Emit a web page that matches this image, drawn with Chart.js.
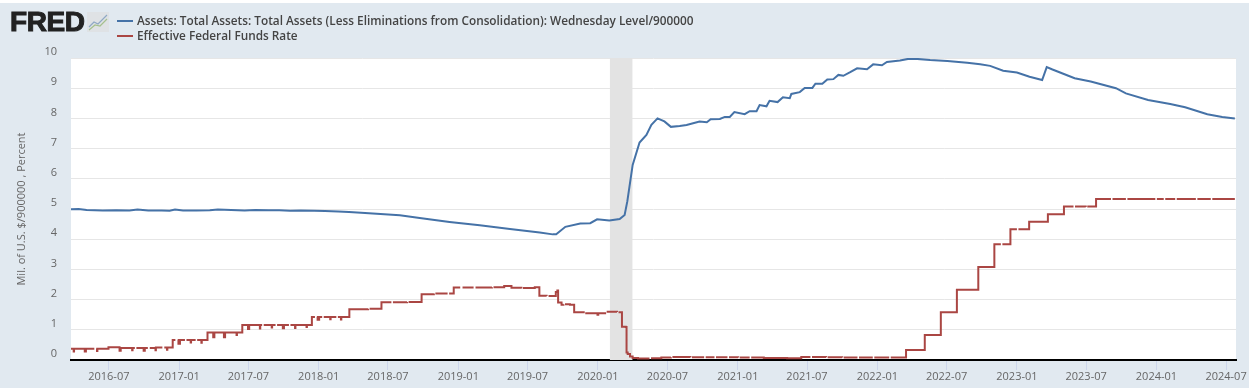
<!DOCTYPE html>
<html>
<head>
<meta charset="utf-8">
<title>FRED</title>
<script src="https://cdn.jsdelivr.net/npm/chart.js@4"></script>
<style>
html, body { margin: 0; padding: 0; background: #fff; width: 1249px; height: 391px; overflow: hidden; }
#panel { position: absolute; left: 0; top: 3px; width: 1249px; height: 385px; background: #e1e9f0; }
#c { position: absolute; left: 0; top: 0; }
#logo { position: absolute; left: 10px; top: 6px; font: bold 28px "Liberation Sans", sans-serif; color: #222; letter-spacing: -0.4px; -webkit-text-stroke: 1px #222; }
#logo-icon { position: absolute; left: 87px; top: 12px; }
#legend { position: absolute; left: 117px; top: 13px; font: 600 11.8px "Open Sans", sans-serif; color: #444; }
#legend div { height: 15px; line-height: 15px; white-space: nowrap; }
#legend i { display: inline-block; width: 16px; height: 2px; margin-right: 4px; vertical-align: 3px; }
</style>
</head>
<body>
<div id="panel"></div>
<canvas id="c" width="1249" height="391"></canvas>
<div id="logo">FRED</div>
<svg id="logo-icon" width="22" height="20">
  <rect width="22" height="20" fill="#dfe2e5"/>
  <polyline points="2,15 7,10 11,12 20,3" fill="none" stroke="#8fa9c4" stroke-width="1.2"/>
  <polyline points="2,18 8,13 13,14 20,7" fill="none" stroke="#a5c08e" stroke-width="1.2"/>
</svg>
<div id="legend"></div>
<script>
const tickDates = ['2016-07-01','2017-01-01','2017-07-01','2018-01-01','2018-07-01','2019-01-01','2019-07-01','2020-01-01',
    '2020-07-01','2021-01-01','2021-07-01','2022-01-01','2022-07-01','2023-01-01','2023-07-01','2024-01-01','2024-07-01'];
const tickLabels = ['2016-07','2017-01','2017-07','2018-01','2018-07','2019-01','2019-07','2020-01',
    '2020-07','2021-01','2021-07','2022-01','2022-07','2023-01','2023-07','2024-01','2024-07'];
const recessionDates = ['2020-02-01','2020-04-01'];
const recessionTop = [10,10];

const assetLabel = 'Assets: Total Assets: Total Assets (Less Eliminations from Consolidation): Wednesday Level/900000';
const rateLabel = 'Effective Federal Funds Rate';
const yTitle = 'Mil. of U.S. $/900000 , Percent';

const assetDates = [
    '2016-03-23','2016-04-13','2016-05-04','2016-06-15','2016-07-20','2016-08-24','2016-09-14','2016-10-12',
    '2016-11-16','2016-12-07','2016-12-21','2017-01-11','2017-02-15','2017-03-22','2017-04-12','2017-05-17',
    '2017-06-21','2017-07-19','2017-08-23','2017-09-20','2017-10-18','2017-11-15','2017-12-20','2018-01-17',
    '2018-02-21','2018-03-21','2018-05-02','2018-08-01','2018-09-22','2018-12-09','2019-02-26','2019-05-16',
    '2019-08-02','2019-09-05','2019-09-14','2019-10-08','2019-11-16','2019-12-12','2019-12-30','2020-01-31',
    '2020-02-27','2020-03-11','2020-03-18','2020-04-01','2020-04-19','2020-05-07','2020-05-20','2020-06-05',
    '2020-06-23','2020-07-10','2020-08-02','2020-08-20','2020-09-23','2020-10-12','2020-10-22','2020-11-15',
    '2020-11-28','2020-12-11','2020-12-23','2021-01-19','2021-02-01','2021-02-19','2021-02-27','2021-03-17',
    '2021-03-25','2021-04-15','2021-04-29','2021-05-17','2021-05-21','2021-06-12','2021-06-25','2021-07-15',
    '2021-07-23','2021-08-10','2021-08-23','2021-09-08','2021-09-21','2021-10-04','2021-10-22','2021-11-09',
    '2021-12-05','2021-12-21','2022-01-13','2022-01-26','2022-03-01','2022-03-22','2022-04-15','2022-05-19',
    '2022-07-03','2022-08-24','2022-09-27','2022-10-23','2022-11-26','2023-01-01','2023-02-03','2023-03-08',
    '2023-03-20','2023-04-04','2023-06-01','2023-07-13','2023-09-17','2023-10-13','2023-12-10','2024-02-06',
    '2024-03-16','2024-05-13','2024-06-21','2024-07-24'];
const assetValues = [
    4.99,5.00,4.97,4.95,4.96,4.95,4.98,4.95,
    4.95,4.94,4.98,4.95,4.95,4.96,4.98,4.97,
    4.95,4.97,4.96,4.96,4.94,4.95,4.94,4.93,
    4.92,4.90,4.87,4.79,4.70,4.57,4.46,4.34,
    4.22,4.16,4.16,4.41,4.52,4.53,4.66,4.62,
    4.67,4.80,5.25,6.46,7.20,7.45,7.79,8.00,
    7.90,7.72,7.75,7.78,7.90,7.87,7.97,7.98,
    8.05,8.05,8.21,8.14,8.24,8.24,8.44,8.40,
    8.58,8.54,8.70,8.67,8.81,8.87,9.01,9.01,
    9.15,9.15,9.29,9.30,9.44,9.41,9.53,9.66,
    9.63,9.79,9.76,9.87,9.92,9.97,9.97,9.93,
    9.90,9.84,9.79,9.74,9.58,9.52,9.38,9.27,
    9.70,9.62,9.33,9.22,9.00,8.83,8.61,8.48,
    8.37,8.14,8.05,8.00];

// daily series, null = hole in the published line
const rateDates = [
    '2016-03-24','2016-03-31','2016-04-01','2016-04-29','2016-05-02','2016-05-24',
    '2016-05-25','2016-05-29','2016-05-31','2016-06-01','2016-06-30','2016-07-29',
    '2016-08-01','2016-08-31','2016-09-01','2016-09-07','2016-09-08','2016-09-11',
    '2016-09-30','2016-10-03','2016-10-11','2016-10-12','2016-10-16','2016-10-31',
    '2016-11-01','2016-11-18','2016-11-19','2016-11-23','2016-11-30','2016-12-01',
    '2016-12-15','2016-12-22','2016-12-23','2016-12-28','2016-12-30','2017-01-03',
    '2017-01-16','2017-01-17','2017-01-20','2017-01-31','2017-02-01','2017-02-13',
    '2017-02-14','2017-02-17','2017-02-28','2017-03-01','2017-03-16','2017-03-31',
    '2017-04-03','2017-04-28','2017-05-01','2017-05-31','2017-06-01','2017-06-15',
    '2017-06-30','2017-07-03','2017-07-31','2017-08-01','2017-08-06','2017-08-07',
    '2017-08-10','2017-08-31','2017-09-01','2017-09-10','2017-09-11','2017-09-14',
    '2017-09-29','2017-10-02','2017-10-15','2017-10-16','2017-10-19','2017-10-31',
    '2017-11-01','2017-11-30','2017-12-01','2017-12-14','2017-12-22','2017-12-23',
    '2017-12-27','2017-12-29','2018-01-02','2018-01-10','2018-01-11','2018-01-14',
    '2018-01-31','2018-02-01','2018-02-16','2018-02-17','2018-02-20','2018-02-28',
    '2018-03-01','2018-03-22','2018-05-10','2018-05-11','2018-05-14','2018-06-14',
    '2018-07-10','2018-07-11','2018-07-14','2018-08-20','2018-08-21','2018-08-24',
    '2018-09-27','2018-10-29','2018-10-30','2018-11-02','2018-12-04','2018-12-05',
    '2018-12-08','2018-12-20','2019-01-06','2019-01-07','2019-01-12','2019-02-10',
    '2019-02-11','2019-02-15','2019-03-30','2019-03-31','2019-04-03','2019-05-01',
    '2019-05-20','2019-06-15','2019-06-16','2019-06-19','2019-07-20','2019-08-01',
    '2019-08-20','2019-08-21','2019-08-25','2019-09-13','2019-09-17','2019-09-19',
    '2019-09-28','2019-10-03','2019-10-04','2019-10-07','2019-10-20','2019-10-31',
    '2019-11-25','2019-11-26','2019-11-29','2019-12-20','2019-12-31','2020-01-02',
    '2020-01-20','2020-01-21','2020-01-24','2020-02-20','2020-02-21','2020-02-24',
    '2020-03-04','2020-03-14','2020-03-16','2020-03-19','2020-03-25','2020-04-01',
    '2020-04-15','2020-05-15','2020-05-16','2020-05-19','2020-06-15','2020-07-10',
    '2020-07-11','2020-07-14','2020-08-15','2020-08-30','2020-08-31','2020-09-03',
    '2020-10-05','2020-10-06','2020-10-09','2020-11-01','2020-11-02','2020-11-05',
    '2020-12-05','2020-12-06','2020-12-09','2021-01-02','2021-01-03','2021-01-06',
    '2021-02-01','2021-02-02','2021-02-05','2021-03-10','2021-04-20','2021-05-10',
    '2021-06-16','2021-07-10','2021-07-11','2021-07-14','2021-08-20','2021-08-21',
    '2021-08-24','2021-10-01','2021-10-02','2021-10-05','2021-11-10','2021-11-11',
    '2021-11-14','2021-12-20','2021-12-21','2021-12-24','2022-02-01','2022-02-02',
    '2022-02-05','2022-03-17','2022-05-05','2022-06-16','2022-07-28','2022-09-22',
    '2022-11-03','2022-11-20','2022-11-21','2022-11-24','2022-12-15','2023-01-01',
    '2023-01-02','2023-01-05','2023-02-02','2023-03-23','2023-05-04','2023-05-29',
    '2023-05-30','2023-06-02','2023-06-30','2023-07-01','2023-07-04','2023-07-27',
    '2023-09-04','2023-09-05','2023-09-08','2023-10-13','2023-10-14','2023-10-17',
    '2023-12-29','2023-12-30','2024-01-02','2024-01-20','2024-01-21','2024-01-24',
    '2024-02-19','2024-02-20','2024-02-23','2024-04-13','2024-04-14','2024-04-17',
    '2024-05-22','2024-05-23','2024-05-26','2024-07-24'];
const rateValues = [
    0.37,0.28,0.37,0.28,0.37,0.37,
    null,0.37,0.30,0.37,0.42,0.31,
    0.40,0.32,0.40,0.40,null,0.40,
    0.31,0.40,0.40,null,0.40,0.32,
    0.41,0.41,null,0.41,0.34,0.41,
    0.66,0.66,null,0.66,0.54,0.66,
    0.66,null,0.66,0.58,0.66,0.66,
    null,0.66,0.57,0.66,0.91,0.75,
    0.91,0.75,0.91,0.83,0.91,1.16,
    1.03,1.16,1.04,1.16,1.16,null,
    1.16,1.08,1.16,1.16,null,1.16,
    1.05,1.16,1.16,null,1.16,1.06,
    1.16,1.09,1.16,1.42,1.42,null,
    1.42,1.33,1.42,1.42,null,1.42,
    1.35,1.42,1.42,null,1.42,1.34,
    1.42,1.68,1.70,null,1.70,1.91,
    1.91,null,1.91,1.92,null,1.92,
    2.18,2.20,null,2.20,2.20,null,
    2.20,2.40,2.40,null,2.40,2.40,
    null,2.40,2.41,null,2.41,2.45,
    2.39,2.37,null,2.38,2.41,2.13,
    2.12,null,2.12,2.25,2.30,1.90,
    1.83,1.85,null,1.85,1.83,1.58,
    1.55,null,1.55,1.55,1.50,1.55,
    1.58,null,1.60,1.59,null,1.58,
    1.10,1.09,0.25,0.20,0.12,0.07,
    0.05,0.05,null,0.06,0.08,0.09,
    null,0.10,0.10,0.09,null,0.09,
    0.09,null,0.09,0.09,null,0.09,
    0.09,null,0.09,0.08,null,0.08,
    0.08,null,0.08,0.07,0.07,0.06,
    0.10,0.10,null,0.10,0.09,null,
    0.09,0.08,null,0.08,0.08,null,
    0.08,0.08,null,0.08,0.08,null,
    0.08,0.33,0.83,1.58,2.33,3.08,
    3.83,3.83,null,3.83,4.33,4.33,
    null,4.33,4.58,4.83,5.08,5.08,
    null,5.08,5.07,null,5.08,5.33,
    5.33,null,5.33,5.33,null,5.33,
    5.33,null,5.33,5.33,null,5.33,
    5.33,null,5.33,5.33,null,5.33,
    5.33,null,5.33,5.33];

const blue = '#4572a7', red = '#aa4643';

function points(dates, values) {
    return dates.map((d, i) => ({ x: Date.parse(d), y: values[i] }));
}

const tickValues = tickDates.map(d => Date.parse(d));

document.getElementById('legend').innerHTML =
    `<div><i style="background:${blue}"></i>${assetLabel}</div>` +
    `<div><i style="background:${red}"></i>${rateLabel}</div>`;

const fontFamily = '"Open Sans", sans-serif';

const plotBg = {
    id: 'plotBg',
    beforeDraw(chart) {
        const a = chart.chartArea;
        chart.ctx.fillStyle = '#fff';
        chart.ctx.fillRect(a.left, a.top, a.right - a.left, a.bottom - a.top);
    }
};

new Chart(document.getElementById('c'), {
    type: 'line',
    plugins: [plotBg],
    data: {
        datasets: [
            { label: assetLabel, data: points(assetDates, assetValues), borderColor: blue, borderWidth: 2, pointRadius: 0, order: 2 },
            { label: rateLabel, data: points(rateDates, rateValues), borderColor: red, borderWidth: 2, pointRadius: 0, stepped: 'before', spanGaps: false, order: 1 },
            { label: 'Recession', data: points(recessionDates, recessionTop), borderWidth: 0, pointRadius: 0, fill: 'origin', backgroundColor: '#e3e3e3', order: 3 }
        ]
    },
    options: {
        responsive: false, animation: false,
        layout: { padding: { top: 58, right: 13, left: 0, bottom: 0 } },
        plugins: { legend: { display: false }, tooltip: { enabled: false } },
        scales: {
            x: {
                type: 'linear',
                min: Date.parse('2016-03-24'), max: Date.parse('2024-07-27'),
                afterBuildTicks: s => { s.ticks = tickValues.map(v => ({ value: v })); },
                afterFit: s => { s.height = 31; },
                grid: { drawOnChartArea: false, tickLength: 10, tickColor: '#ccd6eb' },
                border: { color: '#000', width: 2 },
                ticks: {
                    autoSkip: false, maxRotation: 0, color: '#666', padding: 0,
                    font: { family: fontFamily, size: 11 },
                    callback: v => tickLabels[tickValues.indexOf(v)]
                }
            },
            y: {
                min: 0, max: 10,
                afterFit: s => { s.width = 71; },
                grid: { color: '#e6e6e6', drawTicks: false },
                border: { display: false },
                title: { display: true, text: yTitle, color: '#666', padding: { top: 15, bottom: 0 }, font: { family: fontFamily, size: 11 } },
                ticks: { stepSize: 1, color: '#666', padding: 14, labelOffset: -6, font: { family: fontFamily, size: 11 } }
            }
        }
    }
});
</script>
</body>
</html>
